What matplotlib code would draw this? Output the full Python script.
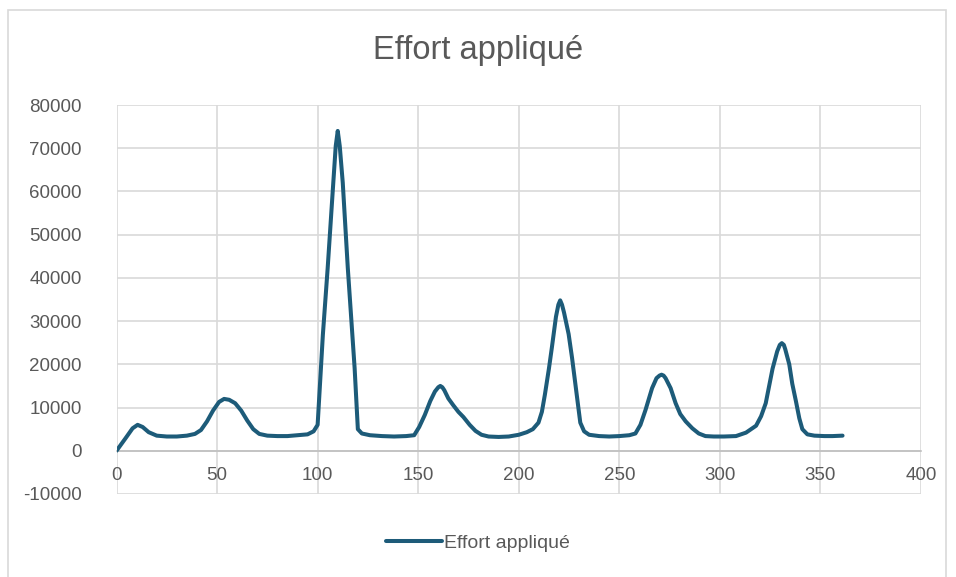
import matplotlib
matplotlib.use('Agg')
import matplotlib.pyplot as plt
from matplotlib.patches import Rectangle

TITLE = 'Effort appliqué'
SERIES_NAME = 'Effort appliqué'

angle = [0, 4.5, 8, 10.5, 13, 16, 20, 25, 30, 35, 39, 42, 45, 48, 51, 53.5, 56, 59, 62, 65,
         68, 71, 75, 80, 85, 90, 95, 98, 100, 102.6, 105, 107.5, 109, 110, 111, 112.5, 115,
         118.4, 120, 122, 126, 132, 138, 144, 148, 150.5, 153.3, 156, 158.3, 160, 161, 162,
         163, 165, 167.5, 170, 172.5, 175.6, 178.5, 181.5, 185, 190, 195, 200, 204, 207,
         209.8, 211.5, 213, 215, 216.5, 218.5, 219.7, 220.6, 221.5, 222.5, 224.8, 226.5, 228,
         229.5, 230.6, 232.5, 235, 240, 245, 250, 255, 258, 260.5, 263, 266.3, 268.5, 270,
         271, 272, 273, 275.5, 278, 280.3, 283, 286.3, 289.5, 292.8, 297, 302, 308, 313, 318,
         320.5, 322.8, 324.5, 326.2, 328.5, 329.8, 330.8, 331.8, 332.5, 334.5, 336, 337.8,
         339.5, 341, 343.5, 347, 352, 356, 361]

effort = [0, 2900, 5200, 6000, 5500, 4300, 3500, 3300, 3300, 3500, 3900, 4800, 6800, 9300,
          11300, 12000, 11800, 11000, 9300, 7000, 5000, 3900, 3500, 3400, 3400, 3600, 3800,
          4500, 6000, 26800, 42300, 60000, 70500, 74000, 70500, 62000, 42300, 19100, 5000,
          4000, 3600, 3400, 3300, 3400, 3600, 5500, 8300, 11500, 13700, 14700, 15000, 14700,
          14000, 12100, 10500, 9000, 7800, 6000, 4600, 3700, 3300, 3200, 3300, 3700, 4300,
          5000, 6500, 9000, 13000, 19000, 24000, 31000, 33800, 34800, 33800, 32000, 27000,
          21500, 16000, 10500, 6500, 4500, 3700, 3400, 3300, 3400, 3600, 4000, 6000, 9400,
          14500, 16800, 17400, 17600, 17400, 16800, 14500, 11000, 8500, 6800, 5200, 4000,
          3400, 3300, 3300, 3400, 4200, 5800, 8000, 11000, 15000, 19000, 23000, 24500, 24900,
          24500, 23500, 20000, 15500, 11500, 7500, 5000, 3800, 3500, 3400, 3400, 3500]

x_ticks = [0, 50, 100, 150, 200, 250, 300, 350, 400]
y_ticks = [-10000, 0, 10000, 20000, 30000, 40000, 50000, 60000, 70000, 80000]


def main():
    LINE_COLOR = '#1d5b79'
    TEXT_COLOR = '#595959'
    GRID_COLOR = '#d9d9d9'
    FONT = ['Liberation Sans Narrow', 'Liberation Sans', 'DejaVu Sans']

    plt.rcParams['font.family'] = FONT

    fig = plt.figure(figsize=(9.56, 5.77), dpi=100)
    ax = fig.add_axes([116.5 / 956, 1 - 494 / 577, (921 - 116.5) / 956, (494 - 105) / 577])

    # chart frame
    fig.patches.append(Rectangle((8 / 956, -0.05), (946 - 8) / 956, 1.05 - 10 / 577,
                                 transform=fig.transFigure, fill=False,
                                 edgecolor='#d9d9d9', linewidth=1.2))

    ax.plot(angle, effort, color=LINE_COLOR, linewidth=2.9,
            solid_joinstyle='round', solid_capstyle='round', label=SERIES_NAME, zorder=3)

    ax.set_xlim(0, 400)
    ax.set_ylim(-10000, 80000)
    ax.set_xticks(x_ticks)
    ax.set_yticks(y_ticks)
    ax.set_yticklabels([str(v) for v in y_ticks])
    ax.grid(True, color=GRID_COLOR, linewidth=1.2)
    ax.set_axisbelow(True)

    for side in ['top', 'right', 'left']:
        ax.spines[side].set_visible(False)
    ax.spines['bottom'].set_position(('data', 0))
    ax.spines['bottom'].set_color('#bfbfbf')
    ax.spines['bottom'].set_linewidth(1.2)

    ax.tick_params(axis='x', length=0, pad=12, labelsize=13.5, labelcolor=TEXT_COLOR)
    ax.tick_params(axis='y', length=0, pad=25, labelsize=13.5, labelcolor=TEXT_COLOR)

    fig.text(0.5, 1 - 51 / 577, TITLE, ha='center', va='center',
             fontsize=23.5, color=TEXT_COLOR)

    fig.legend(loc='center', bbox_to_anchor=(478 / 956, 1 - 543 / 577), frameon=False,
               fontsize=14, handlelength=2.85, handletextpad=0.1, labelcolor=TEXT_COLOR)

    fig.savefig('out.png', dpi=100)


if __name__ == '__main__':
    main()
